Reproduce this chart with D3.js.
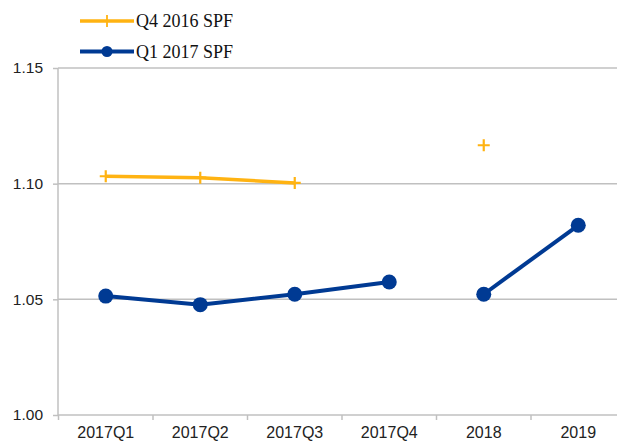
<!DOCTYPE html>
<head>
  <meta charset="utf-8">
  <title>SPF forecasts</title>
</head>
<style>
body { margin: 0; background: #fff; }
.grid line { stroke: #c0c0c0; stroke-width: 1.5px; }
.axis text { font-family: "Liberation Sans", Arial, sans-serif; font-size: 16px; fill: #222; }
.axis path, .axis line { stroke: #c0c0c0; stroke-width: 1.5px; }
.legend text { font-family: "Liberation Serif", "Times New Roman", serif; font-size: 18px; fill: #111; }
</style>
<svg id="svg" width="617" height="441"></svg>
<script src="https://cdn.jsdelivr.net/npm/d3@7"></script>
<script>

var categories = ["2017Q1", "2017Q2", "2017Q3", "2017Q4", "2018", "2019"];
var q4_2016 = [1.1032, 1.1026, 1.1003, null, 1.1166, null];
var q1_2017 = [1.0514, 1.0477, 1.0522, 1.0575, 1.0522, 1.0820];
var yTicks = [1.00, 1.05, 1.10, 1.15];

var orange = "#ffb312",
    blue = "#003a93";

var svg = d3.select("svg");

var x = d3.scaleBand()
    .domain(categories)
    .range([58.5, 625.5]);

var y = d3.scaleLinear()
    .domain([1.00, 1.15])
    .range([415, 68]);

// gridlines
svg.append("g")
    .attr("class", "grid")
  .selectAll("line")
  .data(yTicks.slice(1))
  .enter().append("line")
    .attr("x1", 58)
    .attr("x2", 617)
    .attr("y1", function(d) { return y(d); })
    .attr("y2", function(d) { return y(d); });

// y axis
var yAxis = svg.append("g")
    .attr("class", "axis")
    .attr("transform", "translate(58,0)")
    .call(d3.axisLeft(y).tickValues(yTicks).tickFormat(d3.format(".2f")).tickSize(5).tickSizeOuter(0).tickPadding(10));
yAxis.select(".domain").attr("d", "M0," + y(1.15) + "V" + y(1.00));
yAxis.selectAll("text").style("font-size", "15.5px");

// x axis
var xAxis = svg.append("g")
    .attr("class", "axis")
    .attr("transform", "translate(0," + y(1.00) + ")")
    .call(d3.axisBottom(x).tickSize(0).tickPadding(11.5));
xAxis.select(".domain").attr("d", "M58,0H617");

// boundary ticks on x axis
xAxis.selectAll(".bound")
  .data(categories)
  .enter().append("line")
    .attr("class", "bound")
    .attr("x1", function(d) { return x(d); })
    .attr("x2", function(d) { return x(d); })
    .attr("y1", 0)
    .attr("y2", 5);

var line = d3.line()
    .defined(function(d) { return d.v != null; })
    .x(function(d) { return x(d.c) + x.bandwidth() / 2; })
    .y(function(d) { return y(d.v); });

function pts(arr) {
  return categories.map(function(c, i) { return { c: c, v: arr[i] }; });
}

// Q4 2016 SPF
var orangeData = pts(q4_2016);
svg.append("path")
    .datum(orangeData)
    .attr("fill", "none")
    .attr("stroke", orange)
    .attr("stroke-width", 3.5)
    .attr("d", line);

svg.append("g")
  .selectAll("path")
  .data(orangeData.filter(function(d) { return d.v != null; }))
  .enter().append("path")
    .attr("transform", function(d) { return "translate(" + (x(d.c) + x.bandwidth() / 2) + "," + y(d.v) + ")"; })
    .attr("d", "M-6,0H6M0,-6V6")
    .attr("stroke", orange)
    .attr("stroke-width", 2.2);

// Q1 2017 SPF (gap between 2017Q4 and 2018)
var blueData = pts(q1_2017);
var seg1 = blueData.slice(0, 4), seg2 = blueData.slice(4);
[seg1, seg2].forEach(function(seg) {
  svg.append("path")
      .datum(seg)
      .attr("fill", "none")
      .attr("stroke", blue)
      .attr("stroke-width", 4)
      .attr("d", line);
});

svg.append("g")
  .selectAll("circle")
  .data(blueData)
  .enter().append("circle")
    .attr("cx", function(d) { return x(d.c) + x.bandwidth() / 2; })
    .attr("cy", function(d) { return y(d.v); })
    .attr("r", 7.5)
    .attr("fill", blue);

// legend
var legend = svg.append("g").attr("class", "legend");
var items = [
  { name: "Q4 2016 SPF", color: orange, mark: "cross", yy: 21 },
  { name: "Q1 2017 SPF", color: blue, mark: "circle", yy: 51.5 }
];
items.forEach(function(it) {
  legend.append("line")
      .attr("x1", 80).attr("x2", 134)
      .attr("y1", it.yy).attr("y2", it.yy)
      .attr("stroke", it.color)
      .attr("stroke-width", it.mark == "cross" ? 3.5 : 4);
  if (it.mark == "cross") {
    legend.append("path")
        .attr("transform", "translate(107," + it.yy + ")")
        .attr("d", "M-6,0H6M0,-6V6")
        .attr("stroke", it.color)
        .attr("stroke-width", 1.8);
  } else {
    legend.append("circle")
        .attr("cx", 107).attr("cy", it.yy).attr("r", 5.5)
        .attr("fill", it.color);
  }
  legend.append("text")
      .attr("x", 136)
      .attr("y", it.yy + 6)
      .text(it.name);
});

</script>
